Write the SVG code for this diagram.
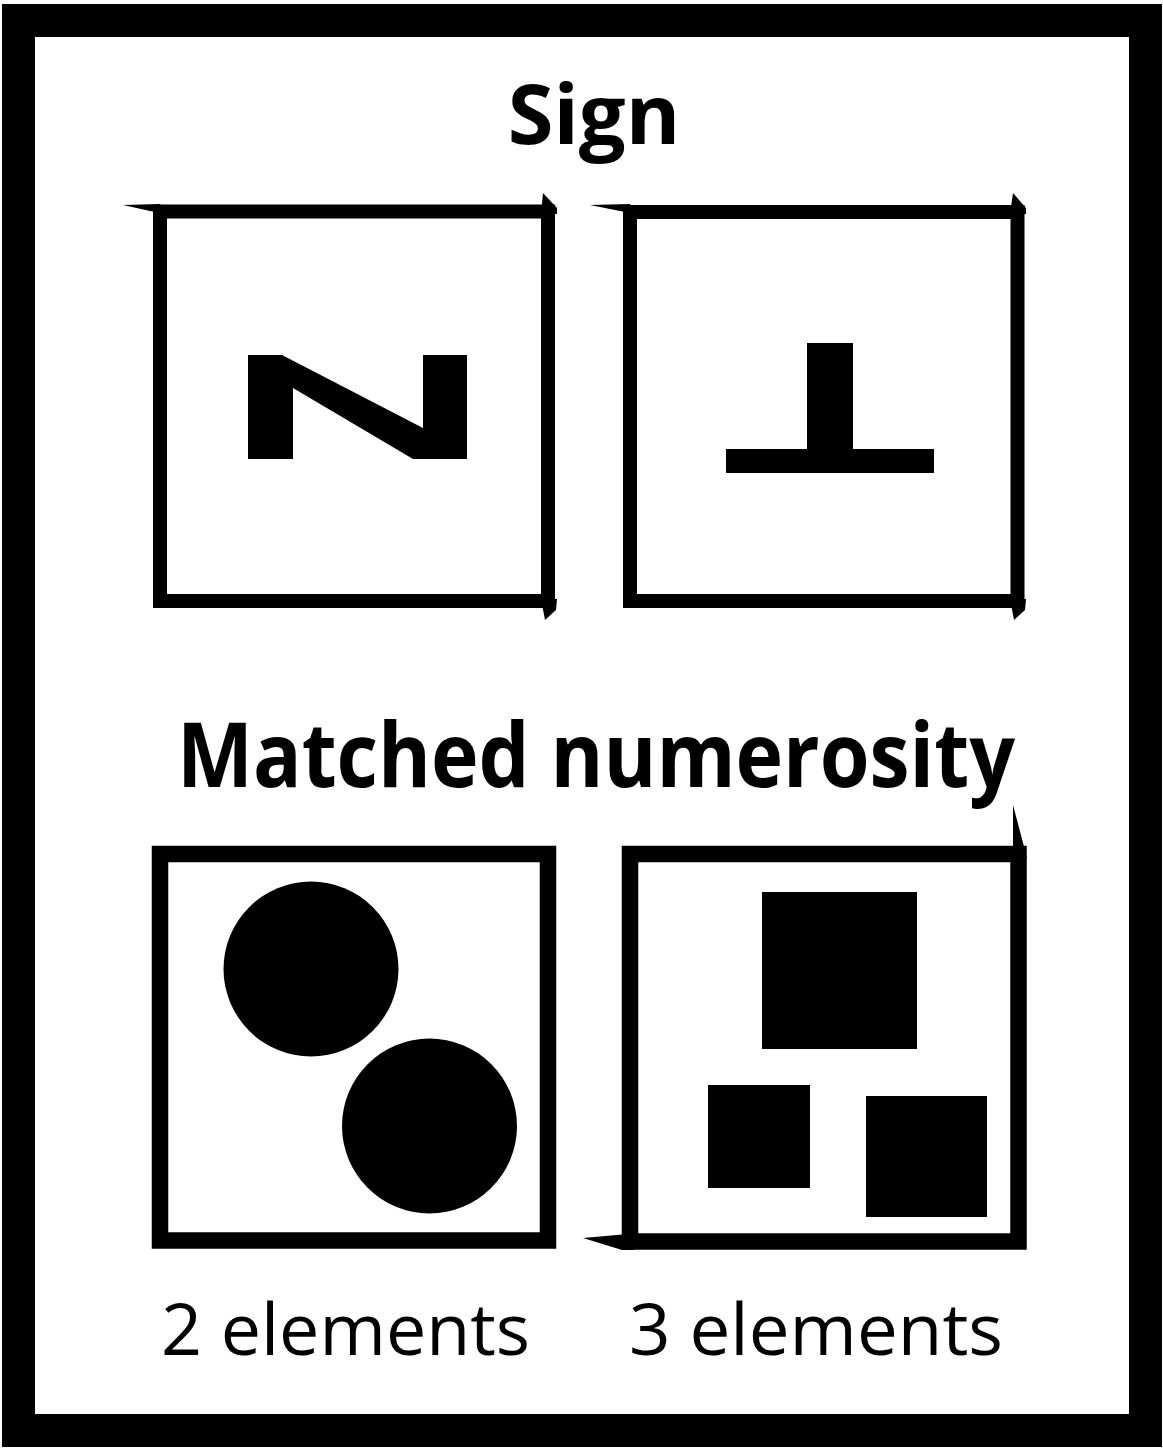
<svg xmlns="http://www.w3.org/2000/svg" width="1163" height="1450" viewBox="0 0 1163 1450">
<style>
.frame{fill:none;stroke:#000}
.ink{fill:#000}
.title{font-family:"Open Sans","Liberation Sans",sans-serif;font-weight:700;fill:#000}
.label{font-family:"Open Sans","Liberation Sans",sans-serif;font-weight:400;fill:#000}
</style>
<rect width="1163" height="1450" fill="#fff"/>
<rect id="outer-frame" class="frame" x="18.5" y="20.5" width="1127" height="1410" stroke-width="33"/>
<text id="title-sign" class="title" x="594" y="144" font-size="83" text-anchor="middle">Sign</text>
<g id="panel-sign-n">
<rect class="frame" x="160" y="211.5" width="388" height="389.5" stroke-width="14"/>
<polygon class="ink" points="123,205 160,204 166,214 150,211"/>
<polygon class="ink" points="543,193 557,208 557,214 541,214"/>
<polygon class="ink" points="541,599 557,599 556,610 545,620"/>
<polygon class="ink" points="248,355 282,355 423,428 423,355 467,355 467,459 413,459 293,388 293,459 248,459"/>
</g>
<g id="panel-sign-t">
<rect class="frame" x="630" y="212" width="387.5" height="389" stroke-width="14"/>
<polygon class="ink" points="590,205 630,204 636,214 620,211"/>
<polygon class="ink" points="1013,193 1026,208 1026,214 1010,214"/>
<polygon class="ink" points="1010,599 1026,599 1025,610 1014,620"/>
<rect class="ink" x="807" y="343" width="46" height="110"/>
<rect class="ink" x="726" y="449" width="208" height="24"/>
</g>
<text id="title-matched" class="title" x="177" y="787" font-size="90" textLength="838" lengthAdjust="spacingAndGlyphs">Matched numerosity</text>
<g id="panel-circles">
<rect class="frame" x="160" y="854" width="388" height="386.5" stroke-width="16.5"/>
<circle class="ink" cx="311" cy="969" r="87.5"/>
<circle class="ink" cx="429.5" cy="1126" r="87.5"/>
</g>
<g id="panel-squares">
<rect class="frame" x="630" y="854" width="388.5" height="387.5" stroke-width="16.5"/>
<polygon class="ink" points="1013,805 1027,858 1013,858"/>
<polygon class="ink" points="583,1238 628,1234 634,1250 622,1250"/>
<rect class="ink" x="762" y="892" width="155" height="157"/>
<rect class="ink" x="708" y="1085" width="102" height="103"/>
<rect class="ink" x="866" y="1096" width="121" height="121"/>
</g>
<text id="label-2" class="label" x="161" y="1355" font-size="71" textLength="369" lengthAdjust="spacingAndGlyphs">2 elements</text>
<text id="label-3" class="label" x="629" y="1355" font-size="71" textLength="374" lengthAdjust="spacingAndGlyphs">3 elements</text>
</svg>
